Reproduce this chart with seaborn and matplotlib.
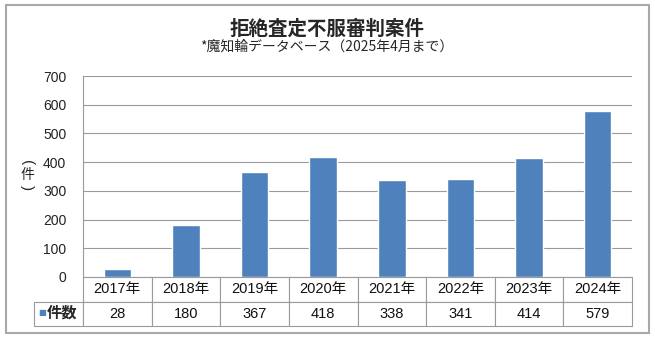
import matplotlib
matplotlib.use("Agg")
import matplotlib.pyplot as plt
import seaborn as sns
import pandas as pd
from matplotlib.patches import Rectangle

years = ["2017年", "2018年", "2019年", "2020年", "2021年", "2022年", "2023年", "2024年"]
counts = [28, 180, 367, 418, 338, 341, 414, 579]
series_name = "件数"
title = "拒絶査定不服審判案件"
subtitle = "*魔知輪データベース（2025年4月まで）"

sns.set_style("white")
plt.rcParams['font.family'] = ['Liberation Sans', 'Noto Sans CJK JP', 'DejaVu Sans']

bar_color = "#4F81BD"
line_color = "#9A9A9A"

df = pd.DataFrame({"year": years, "count": counts})

fig = plt.figure(figsize=(6.55, 3.59), dpi=100)
ax = fig.add_axes([83 / 655, 1 - 277 / 359, 549 / 655, 201 / 359])

sns.barplot(data=df, x="year", y="count", color=bar_color, width=0.4,
            saturation=1, ax=ax)

ax.set_ylim(0, 700)
ax.set_xlim(-0.5, len(years) - 0.5)
ax.set_yticks(range(0, 701, 100))
ax.yaxis.grid(True, color=line_color, linewidth=0.8)
ax.set_axisbelow(True)
ax.tick_params(axis='y', length=0, pad=12, labelsize=10, labelcolor="#222222")
ax.set_xticks([])
ax.set_xlabel("")
ax.set_ylabel("")
for side in ["top", "right", "bottom"]:
    ax.spines[side].set_visible(False)
ax.spines["left"].set_color(line_color)
ax.spines["left"].set_linewidth(0.8)

# data table under the axis
cell_text = [[""] + years, [""] + [str(v) for v in counts]]
first_w = 49 / 598
col_w = (1 - first_w) / len(years)
tbl = ax.table(cellText=cell_text, cellLoc="center",
               colWidths=[first_w] + [col_w] * len(years),
               bbox=[-49 / 549, -49 / 201, 598 / 549, 49 / 201])
tbl.auto_set_font_size(False)
for (r, c), cell in tbl.get_celld().items():
    cell.set_edgecolor(line_color)
    cell.set_linewidth(0.8)
    cell.get_text().set_fontsize(10.5)
    cell.get_text().set_color("#111111")
    if r == 0 and c == 0:
        cell.visible_edges = ""

# legend cell: colored square + series name
fig.text(42.5 / 655, 1 - 313 / 359, "■", color=bar_color, fontsize=6,
         ha="center", va="center", family=['DejaVu Sans'])
fig.text(62 / 655, 1 - 313 / 359, series_name, fontsize=11, fontweight="bold",
         ha="center", va="center", family=['Noto Sans CJK JP'])

# y label: 件 with parentheses turned sideways above and below
ylab_x = 27 / 655
fig.text(ylab_x, 1 - 163 / 359, "(", fontsize=11, rotation=-90, ha="center",
         va="center", family=['Liberation Sans'])
fig.text(ylab_x, 1 - 175 / 359, "件", fontsize=10, ha="center", va="center",
         family=['Noto Sans CJK JP'])
fig.text(ylab_x, 1 - 188 / 359, ")", fontsize=11, rotation=-90, ha="center",
         va="center", family=['Liberation Sans'])

fig.text(327 / 655, 1 - 29 / 359, title, fontsize=14, fontweight="bold",
         ha="center", va="center", family=['Noto Sans CJK JP'])
fig.text(327 / 655, 1 - 47 / 359, subtitle, fontsize=10, ha="center",
         va="center", family=['Noto Sans CJK JP', 'DejaVu Sans'])

fig.patches.append(Rectangle((6 / 655, 1 - 333 / 359), 643 / 655, 328 / 359,
                             transform=fig.transFigure, fill=False,
                             edgecolor="#A8A8A8", linewidth=1.5))

fig.savefig("out.png", dpi=100)
